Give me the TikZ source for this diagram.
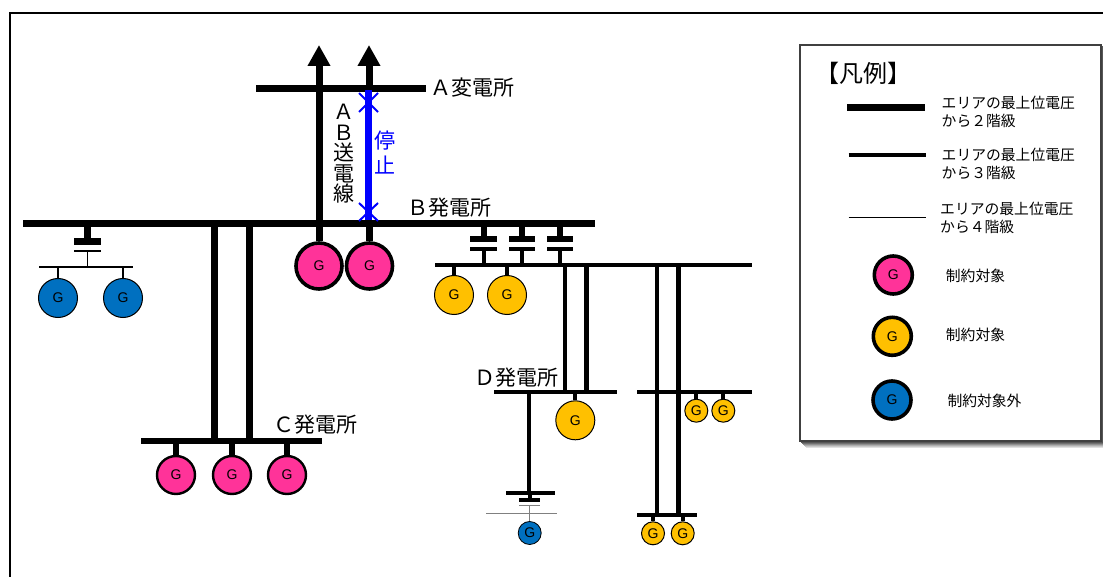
\documentclass[tikz,border=0pt]{standalone}
\usepackage{fontspec}
\setmainfont{Noto Sans CJK JP}
\newfontfamily\gfont{Liberation Sans}
\usetikzlibrary{arrows.meta,calc}
\definecolor{pinkg}{HTML}{FF3399}
\definecolor{oranged}{HTML}{FFC000}
\definecolor{blueg}{HTML}{0070C0}
\definecolor{stopblue}{HTML}{0000FF}
\tikzset{
  x=1pt,y=-1pt,
  genbase/.style={circle,draw=black,inner sep=0pt,font=\gfont\fontsize{14}{15}\selectfont},
  genbig/.style={genbase,minimum size=46pt,line width=3.6pt},
  genmid/.style={genbase,minimum size=39pt,line width=1pt},
  genc/.style={genbase,minimum size=38pt,line width=2.4pt},
  gensmall/.style={genbase,minimum size=23pt,line width=1pt},
  busbar/.style={rectangle,fill=black,inner sep=0pt},
  lab/.style={inner sep=0pt,font=\fontsize{21}{25}\selectfont},
  legtxt/.style={inner sep=0pt,anchor=west,align=left,font=\fontsize{14.8}{18}\selectfont},
  legtxts/.style={inner sep=0pt,anchor=west,font=\fontsize{14.8}{18}\selectfont},
}
\begin{document}
\begin{tikzpicture}
\useasboundingbox (0,0) rectangle (1103,577);
\fill[white] (0,0) rectangle (1103,577);
\coordinate (fa) at (10,577);\coordinate (fb) at (10,13);\coordinate (fc) at (1103,13);
\draw[line width=1.2pt] (fa) -- (fb) -- (fc);

% buses
\node[busbar,minimum width=170pt,minimum height=7pt] (busA) at (341,88.5) {};
\node[busbar,minimum width=572.5pt,minimum height=7pt] (busB) at (308.8,223.3) {};
\node[busbar,minimum width=181pt,minimum height=6.5pt] (busC) at (231.5,441) {};
\node[busbar,minimum width=317pt,minimum height=4pt] (busE) at (593.5,264.7) {};
\node[busbar,minimum width=122.4pt,minimum height=4pt] (busD) at (555.5,392) {};
\node[busbar,minimum width=115.3pt,minimum height=4pt] (busF) at (694.4,392) {};
\node[busbar,minimum width=60pt,minimum height=4pt] (busH) at (666.7,514.7) {};
\node[busbar,minimum width=48.7pt,minimum height=4pt] (busI) at (530.4,492.7) {};

% outgoing arrows
\coordinate (ar1) at (319,45);\coordinate (ar2) at (369,45);
\draw[line width=7pt,-{Triangle[width=21.5pt,length=21pt]}] (319,223) -- (ar1);
\draw[line width=7pt,-{Triangle[width=21.5pt,length=21pt]}] (369,90) -- (ar2);

% stopped line
\coordinate (st1) at (368.5,90);\coordinate (st2) at (368.5,220);
\coordinate (xa) at (368.5,102.5);\coordinate (xb) at (368.5,212);
\draw[stopblue,line width=2pt] ($(xa)+(-9.5,-9.5)$) -- ($(xa)+(9.5,9.5)$);
\draw[stopblue,line width=2pt] ($(xa)+(9.5,-9.5)$) -- ($(xa)+(-9.5,9.5)$);
\draw[stopblue,line width=2pt] ($(xb)+(-9.5,-9)$) -- ($(xb)+(9.5,9)$);
\draw[stopblue,line width=2pt] ($(xb)+(9.5,-9)$) -- ($(xb)+(-9.5,9)$);
\draw[stopblue,line width=6.5pt] (st1) -- (st2);

% pink units at B
\node[genbig,fill=pinkg] (gb1) at (319,266) {G};
\node[genbig,fill=pinkg] (gb2) at (369.5,266) {G};
\draw[line width=7pt] (gb1) -- (gb1 |- busB);
\draw[line width=7pt] (gb2) -- (gb2 |- busB);

% left transformer
\node[busbar,minimum width=27pt,minimum height=7pt] (tl1) at (87.5,242) {};
\node[busbar,minimum width=27pt,minimum height=2pt] (tl2) at (87.5,251) {};
\node[busbar,minimum width=93.5pt,minimum height=1.6pt] (busL) at (85.8,267) {};
\draw[line width=7pt] (tl1 |- busB) -- (tl1);
\draw[line width=1.3pt] (tl2) -- (tl2 |- busL);
\node[genmid,fill=blueg] (gl1) at (58,298) {G};
\node[genmid,fill=blueg] (gl2) at (123,298) {G};
\draw[line width=1.3pt] (gl1) -- (gl1 |- busL);
\draw[line width=1.3pt] (gl2) -- (gl2 |- busL);

% B to C double circuit
\coordinate (bc1) at (214,300);\coordinate (bc2) at (249,300);
\draw[line width=7pt] (bc1 |- busB) -- (bc1 |- busC);
\draw[line width=7pt] (bc2 |- busB) -- (bc2 |- busC);
\node[genc,fill=pinkg] (gc1) at (176,475) {G};
\node[genc,fill=pinkg] (gc2) at (232,475) {G};
\node[genc,fill=pinkg] (gc3) at (287,475) {G};
\draw[line width=6pt] (gc1) -- (gc1 |- busC);
\draw[line width=6pt] (gc2) -- (gc2 |- busC);
\draw[line width=6pt] (gc3) -- (gc3 |- busC);

% three transformers
\foreach \n/\xx in {1/483.5,2/522,3/560}{
  \node[busbar,minimum width=26.5pt,minimum height=6.3pt] (tra\n) at (\xx,239.2) {};
  \node[busbar,minimum width=26.5pt,minimum height=4pt] (trb\n) at (\xx,248.7) {};
  \draw[line width=6pt] (tra\n |- busB) -- (tra\n);
  \draw[line width=4pt] (trb\n) -- (trb\n |- busE);
}
\node[genmid,fill=oranged] (ge1) at (454,295) {G};
\node[genmid,fill=oranged] (ge2) at (507,295) {G};
\draw[line width=4pt] (ge1) -- (ge1 |- busE);
\draw[line width=4pt] (ge2) -- (ge2 |- busE);

% E to D
\coordinate (ed1) at (565,300);\coordinate (ed2) at (586.7,300);
\draw[line width=4.7pt] (ed1 |- busE) -- (ed1 |- busD);
\draw[line width=4.7pt] (ed2 |- busE) -- (ed2 |- busD);
\node[genmid,fill=oranged] (gd) at (575.3,420.3) {G};
\draw[line width=4pt] (gd) -- (gd |- busD);

% E to H
\coordinate (eh1) at (657,300);\coordinate (eh2) at (678.7,300);
\draw[line width=4.7pt] (eh1 |- busE) -- (eh1 |- busH);
\draw[line width=4.7pt] (eh2 |- busE) -- (eh2 |- busH);
\node[gensmall,fill=oranged] (gf1) at (696.3,410.7) {G};
\node[gensmall,fill=oranged] (gf2) at (723.3,410.7) {G};
\draw[line width=4pt] (gf1) -- (gf1 |- busF);
\draw[line width=4pt] (gf2) -- (gf2 |- busF);
\node[gensmall,fill=oranged] (gh1) at (653,533.3) {G};
\node[gensmall,fill=oranged] (gh2) at (682.7,533.3) {G};
\draw[line width=4pt] (gh1) -- (gh1 |- busH);
\draw[line width=4pt] (gh2) -- (gh2 |- busH);

% D downward
\coordinate (dd) at (529,450);
\draw[line width=4pt] (dd |- busD) -- (dd |- busI);
\node[busbar,minimum width=21pt,minimum height=4pt] (tda) at (529.8,500) {};
\node[rectangle,fill=gray,inner sep=0pt,minimum width=21pt,minimum height=1pt] (tdb) at (529.8,505.7) {};
\node[rectangle,fill=gray,inner sep=0pt,minimum width=71.6pt,minimum height=1pt] (busJ) at (521.5,513.7) {};
\draw[line width=4pt] (tda |- busI) -- (tda);
\node[gensmall,fill=blueg,line width=.8pt] (gj) at (529.7,533) {G};
\draw[gray,line width=.8pt] (gj) -- (gj |- tdb);

% labels
\node[lab,anchor=west] (la) at (430.5,88) {Ａ変電所};
\node[lab,anchor=west] (lb) at (407.5,208) {Ｂ発電所};
\node[lab,anchor=west] (lc) at (273.5,425) {Ｃ発電所};
\node[lab,anchor=west] (ld) at (474.5,378) {Ｄ発電所};
\node[inner sep=0pt,align=center,font=\fontsize{21}{20.5}\selectfont] (labl) at (343.5,154) {Ａ\\Ｂ\\送\\電\\線};
\node[inner sep=0pt,align=center,text=stopblue,font=\fontsize{21}{25.5}\selectfont] (lst) at (384.5,152.5) {停\\止};

% legend
\foreach \d/\s in {7/12,6/22,5/32,4/44,3/56,2/66}{
  \coordinate (sa) at (800+\d-1,45+\d-1);\coordinate (sb) at (1101.7+\d-1,441.7+\d-1);
  \fill[black!\s!white] (sa) rectangle (sb);
}
\node[rectangle,draw=black!75,fill=white,line width=2.2pt,inner sep=0pt,minimum width=301pt,minimum height=396pt] (leg) at (950.8,243.3) {};
\node[inner sep=0pt,font=\fontsize{24}{28}\selectfont] (legt) at (863,73.5) {【凡例】};

\coordinate (l1a) at (847,107.7);\coordinate (l1b) at (924.7,107.7);
\coordinate (l2a) at (848.5,155.3);\coordinate (l2b) at (926,155.3);
\coordinate (l3a) at (848.5,217.7);\coordinate (l3b) at (926,217.7);
\draw[line width=7pt] (l1a) -- (l1b);
\draw[line width=4pt] (l2a) -- (l2b);
\draw[line width=1pt] (l3a) -- (l3b);
\node[legtxt] (t1) at (941.5,111.7) {エリアの最上位電圧\\から２階級};
\node[legtxt] (t2) at (941.5,163.7) {エリアの最上位電圧\\から３階級};
\node[legtxt] (t3) at (940,218.2) {エリアの最上位電圧\\から４階級};

\node[genbig,fill=pinkg,minimum size=38pt] (k1) at (893.3,275) {G};
\node[genbig,fill=oranged,minimum size=38pt] (k2) at (892.3,336.3) {G};
\node[genbig,fill=blueg,minimum size=38pt] (k3) at (892,400) {G};
\node[legtxts] (k1t) at (945.7,276) {制約対象};
\node[legtxts] (k2t) at (945.7,335) {制約対象};
\node[legtxts] (k3t) at (947.3,401) {制約対象外};
\end{tikzpicture}
\end{document}
